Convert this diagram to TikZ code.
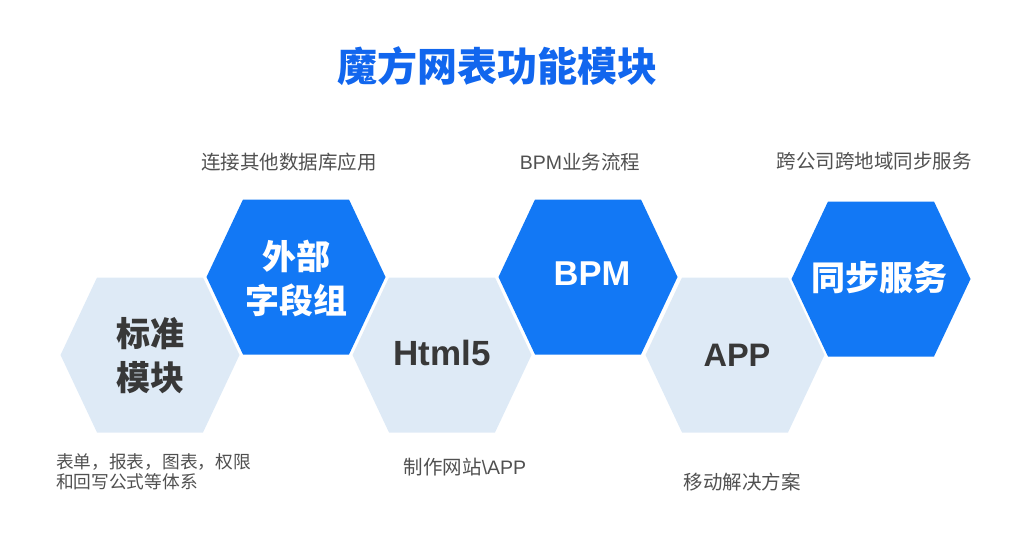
\documentclass[tikz,border=0pt]{standalone}
\usepackage{fontspec}
\setmainfont{Noto Sans CJK SC}
\newfontfamily\lat{Liberation Sans}
\usetikzlibrary{shadows}

\definecolor{hexblue}{HTML}{1278F5}
\definecolor{hexlight}{HTML}{DEEAF6}
\definecolor{titleblue}{HTML}{1166EE}
\definecolor{notegray}{HTML}{505050}
\definecolor{labelgray}{HTML}{383838}

\tikzset{
  hexcell/.pic={\path[pic actions] (-89.5,0) -- (-53,-77.5) -- (53,-77.5) -- (89.5,0) -- (53,77.5) -- (-53,77.5) -- cycle;},
  bluehex/.style={fill=hexblue},
  lighthex/.style={fill=hexlight, drop shadow={shadow xshift=1pt, shadow yshift=-2.5pt, opacity=0.35, fill=black}},
  hexlabel/.style={font=\bfseries\fontsize{34}{44}\selectfont, align=center},
  latlabel/.style={font=\lat\bfseries\fontsize{#1}{#1}\selectfont},
  note/.style={font=\fontsize{19.5}{22}\selectfont, text=notegray}
}

\begin{document}
\begin{tikzpicture}[x=1pt, y=-1pt, every node/.style={inner sep=0pt}]
  \useasboundingbox (0,0) rectangle (1030,546);

  \node[font=\bfseries\fontsize{40}{44}\selectfont, text=titleblue] (title) at (497,66) {魔方网表功能模块};

  % hexagon cells
  \pic[lighthex] at (150,355) {hexcell};
  \pic[bluehex]  at (296,277) {hexcell};
  \pic[lighthex] at (442,355) {hexcell};
  \pic[bluehex]  at (588,277) {hexcell};
  \pic[lighthex] at (735,355) {hexcell};
  \pic[bluehex]  at (881,279) {hexcell};

  % cell labels
  \node[hexlabel, text=labelgray] (std) at (150,356) {标准\\模块};
  \node[hexlabel, text=white] (ext) at (296,278) {外部\\字段组};
  \node[latlabel=35, text=labelgray] (html) at (442,353) {Html5};
  \node[latlabel=34.5, text=white] (bpm) at (592,274) {BPM};
  \node[latlabel=32.5, text=labelgray] (app) at (737,355) {APP};
  \node[hexlabel, text=white] (sync) at (879,278) {同步服务};

  % notes
  \node[note, align=left, font=\fontsize{17.7}{20.5}\selectfont] (stdnote) at (153.5,472) {表单，报表，图表，权限\\和回写公式等体系};
  \node[note] (extnote) at (289,162) {连接其他数据库应用};
  \node[note] (htmlnote) at (465,467) {制作网站{\lat\textbackslash APP}};
  \node[note] (bpmnote) at (580,162) {{\lat BPM}业务流程};
  \node[note] (appnote) at (742,482) {移动解决方案};
  \node[note] (syncnote) at (874,161) {跨公司跨地域同步服务};
\end{tikzpicture}
\end{document}
